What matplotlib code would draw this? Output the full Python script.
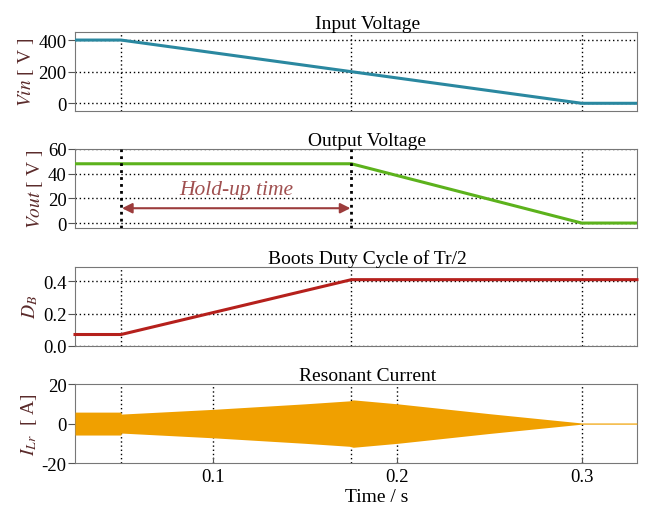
import numpy as np
import matplotlib
matplotlib.use("Agg")
import matplotlib.pyplot as plt

plt.rcParams['font.family'] = ['Liberation Serif', 'DejaVu Serif']
plt.rcParams['mathtext.fontset'] = 'stix'

# time breakpoints (s)
t_pts = [0.025, 0.05, 0.175, 0.3, 0.33]
vin = [400, 400, 200, 0, 0]
vout = [48, 48, 48, 0, 0]
duty = [0.07, 0.07, 0.41, 0.41, 0.41]

# resonant current envelope (A)
ilr_t = [0.025, 0.0499, 0.0501, 0.1, 0.15, 0.174, 0.176, 0.2, 0.25, 0.3, 0.33]
ilr_amp = [5.8, 5.8, 4.8, 7.2, 10.0, 11.5, 12.0, 10.0, 5.0, 0.3, 0.3]

titles = ["Input Voltage", "Output Voltage", "Boots Duty Cycle of Tr/2", "Resonant Current"]
ylabels = ["$\\it{Vin}$ [ V ]", "$\\it{Vout}$ [ V ]", "$D_B$", "$I_{Lr}$  [ A]"]
yticks = [[0, 200, 400], [0, 20, 40, 60], [0.0, 0.2, 0.4], [-20, 0, 20]]
ytlabels = [["0", "200", "400"], ["0", "20", "40", "60"], ["0.0", "0.2", "0.4"], ["-20", "0", "20"]]
ylims = [(-50, 450), (-4, 60), (0, 0.49), (-20, 20)]
vlines = [[0.05, 0.175, 0.3], [0.3], [0.05, 0.175, 0.3], [0.05, 0.1, 0.175, 0.2, 0.3]]

fig = plt.figure(figsize=(6.58, 5.10), dpi=100)
bottoms = [0.780, 0.551, 0.320, 0.090]
axes = [fig.add_axes([0.114, b, 0.854, 0.155]) for b in bottoms]

label_col = '#5a2a2a'
dots = (0, (1, 2))
for i, ax in enumerate(axes):
    ax.set_xlim(0.025, 0.33)
    ax.set_ylim(*ylims[i])
    ax.set_yticks(yticks[i])
    ax.set_yticklabels(ytlabels[i], fontsize=13.5)
    ax.set_title(titles[i], fontsize=14, pad=3, x=0.52)
    ax.set_ylabel(ylabels[i], fontsize=14, color=label_col, labelpad=2)
    for s in ax.spines.values():
        s.set_color('#777777')
    ax.tick_params(axis='y', direction='out', length=5, color='#555555', pad=1)
    for x in vlines[i]:
        ax.axvline(x, color='k', ls=dots, lw=1, zorder=1)
    if i < 3:
        ax.set_xticks([])
        for y in yticks[i]:
            ax.axhline(y, color='k', ls=dots, lw=1, zorder=1)
    else:
        ax.set_xticks([0.1, 0.2, 0.3])
        ax.set_xticklabels(["0.1", "0.2", "0.3"], fontsize=13.5)
        ax.tick_params(axis='x', direction='in', length=4, color='#555555')
        ax.set_xlabel("Time / s", fontsize=14)
        ax.xaxis.set_label_coords(0.537, -0.32)

axes[0].plot(t_pts, vin, color='#2a88a0', lw=2.2, zorder=3)

axes[1].plot(t_pts, vout, color='#5cb21c', lw=2.2, zorder=3)
for x in [0.05, 0.175]:
    axes[1].axvline(x, color='k', ls=(0, (1, 1.5)), lw=2, zorder=4)
axes[1].annotate("", xy=(0.0505, 12), xytext=(0.1745, 12),
                 arrowprops=dict(arrowstyle='<|-|>', color='#9c3c3c', lw=1.5,
                                 mutation_scale=15, shrinkA=0, shrinkB=0))
axes[1].text(0.1125, 27, "Hold-up time", color='#a05050', fontsize=15.5,
             style='italic', ha='center', va='center')

axes[2].plot(t_pts, duty, color='#b5201c', lw=2.2, zorder=3, clip_on=False)

amp = np.array(ilr_amp)
axes[3].fill_between(ilr_t, -amp, amp, color='#f0a000', lw=0, zorder=3)

fig.savefig("out.png", dpi=100)
